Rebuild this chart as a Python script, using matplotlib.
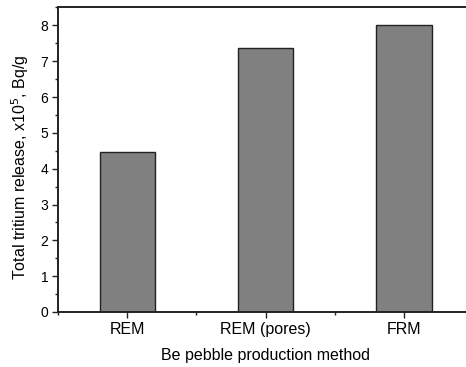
import matplotlib
matplotlib.use('Agg')
from matplotlib import pyplot as plt
from matplotlib.ticker import MultipleLocator

methods = ['REM', 'REM (pores)', 'FRM']
release = [4.47, 7.38, 8.0]

plt.rcParams['font.family'] = ['Liberation Sans', 'DejaVu Sans']

fig = plt.figure(figsize=(4.66, 3.67), dpi=100)
ax = fig.add_axes([0.1245, 0.1499, 0.8906, 0.8297])

x = range(len(methods))
ax.bar(x, release, width=0.4, color='#808080', edgecolor='#222222', linewidth=1.0)

ax.set_xlim(-0.5, 2.5)
ax.set_ylim(0, 8.5)
ax.set_xticks(list(x))
ax.set_xticklabels(methods)
ax.xaxis.set_minor_locator(MultipleLocator(1.0, offset=0.5))
ax.yaxis.set_major_locator(MultipleLocator(1))
ax.yaxis.set_minor_locator(MultipleLocator(0.5))

for s in ['left', 'bottom', 'top']:
    ax.spines[s].set_linewidth(1.4)
    ax.spines[s].set_color('#222222')
ax.spines['right'].set_visible(False)

ax.tick_params(which='major', direction='out', length=4, width=1.0, color='#222222')
ax.tick_params(which='minor', direction='out', length=2.5, width=1.0, color='#222222')
ax.tick_params(axis='x', labelsize=11.5, pad=3)
ax.tick_params(axis='y', labelsize=10, pad=3)

ax.set_xlabel('Be pebble production method', fontsize=11.5, labelpad=8)
ax.set_ylabel('Total tritium release, x10$^5$, Bq/g', fontsize=11.5)
ax.yaxis.set_label_coords(-0.065, 0.475)

plt.savefig('out.png', dpi=100)
